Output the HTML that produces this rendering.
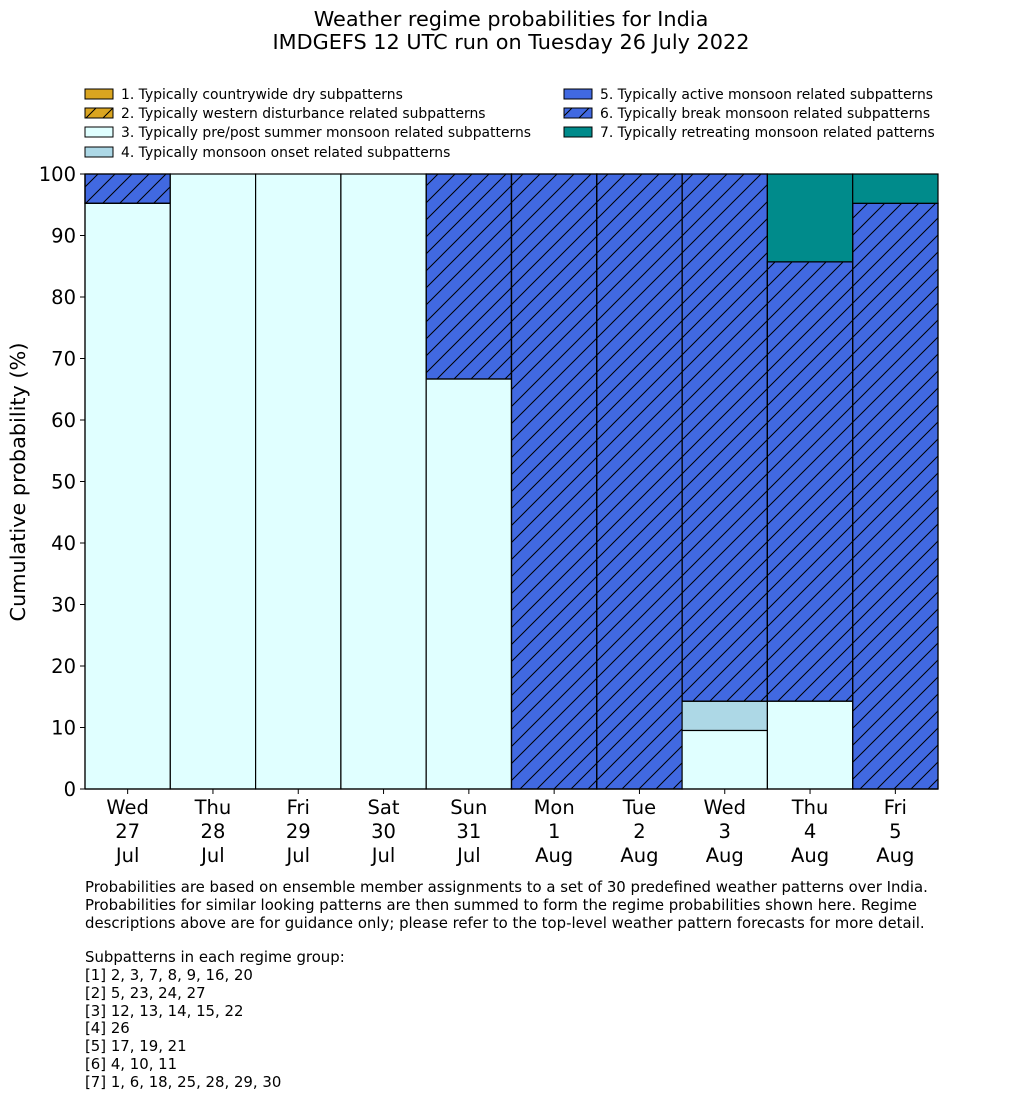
<!DOCTYPE html>
<html><head><meta charset="utf-8"><style>
body{margin:0;background:#fff;width:1033px;height:1114px;overflow:hidden;font-family:"Liberation Sans","DejaVu Sans",sans-serif}
svg text{font-family:"DejaVu Sans","Liberation Sans",sans-serif}
</style></head><body>
<svg id="chart" width="1033" height="1114" xmlns="http://www.w3.org/2000/svg">
<defs>
<pattern id="hatch" patternUnits="userSpaceOnUse" width="17" height="17">
<path d="M-1,18 L18,-1 M-5,5 L5,-5 M12,22 L22,12" stroke="#000" stroke-width="1"/>
</pattern>
</defs>
<text x="511" y="26" font-size="20.8" text-anchor="middle">Weather regime probabilities for India</text>
<text x="511" y="49" font-size="20.8" text-anchor="middle">IMDGEFS 12 UTC run on Tuesday 26 July 2022</text>
<g id="legend"></g>
<g id="bars"></g>
<g id="axes"></g>
<text transform="translate(25,482) rotate(-90)" font-size="20.8" text-anchor="middle">Cumulative probability (%)</text>
<g font-size="14.9">
<text x="85" y="892">Probabilities are based on ensemble member assignments to a set of 30 predefined weather patterns over India.</text>
<text x="85" y="910">Probabilities for similar looking patterns are then summed to form the regime probabilities shown here. Regime</text>
<text x="85" y="928">descriptions above are for guidance only; please refer to the top-level weather pattern forecasts for more detail.</text>
<text x="85" y="962">Subpatterns in each regime group:</text>
<text x="85" y="980">[1] 2, 3, 7, 8, 9, 16, 20</text>
<text x="85" y="998">[2] 5, 23, 24, 27</text>
<text x="85" y="1016">[3] 12, 13, 14, 15, 22</text>
<text x="85" y="1033">[4] 26</text>
<text x="85" y="1051">[5] 17, 19, 21</text>
<text x="85" y="1069">[6] 4, 10, 11</text>
<text x="85" y="1087">[7] 1, 6, 18, 25, 28, 29, 30</text>
</g>
</svg>
<script>
const days=["Wed","Thu","Fri","Sat","Sun","Mon","Tue","Wed","Thu","Fri"];
const dates=["27","28","29","30","31","1","2","3","4","5"];
const months=["Jul","Jul","Jul","Jul","Jul","Aug","Aug","Aug","Aug","Aug"];
const regimeNames=["1. Typically countrywide dry subpatterns","2. Typically western disturbance related subpatterns","3. Typically pre/post summer monsoon related subpatterns","4. Typically monsoon onset related subpatterns","5. Typically active monsoon related subpatterns","6. Typically break monsoon related subpatterns","7. Typically retreating monsoon related patterns"];
const regimeColors=["#daa520","#daa520","#e0ffff","#add8e6","#4169e1","#4169e1","#008b8b"];
const regimeHatch=[false,true,false,false,false,true,false];
const r1=[0,0,0,0,0,0,0,0,0,0];
const r2=[0,0,0,0,0,0,0,0,0,0];
const r3=[95.24,100,100,100,66.67,0,0,9.52,14.29,0];
const r4=[0,0,0,0,0,0,0,4.76,0,0];
const r5=[0,0,0,0,0,0,0,0,0,0];
const r6=[4.76,0,0,0,33.33,100,100,85.72,71.43,95.24];
const r7=[0,0,0,0,0,0,0,0,14.28,4.76];
const yTicks=[0,10,20,30,40,50,60,70,80,90,100];
const series=[r1,r2,r3,r4,r5,r6,r7];
const NS="http://www.w3.org/2000/svg";
const X0=85,X1=938,Y0=789,Y1=174;
const bw=(X1-X0)/days.length;
const xs=i=>X0+i*bw;
const ys=v=>Y0-(v/100)*(Y0-Y1);
function mk(t,a,p){const e=document.createElementNS(NS,t);for(const k in a)e.setAttribute(k,a[k]);p.appendChild(e);return e;}
const bars=document.getElementById('bars');
for(let i=0;i<days.length;i++){let c=0;
 for(let s=0;s<series.length;s++){const v=series[s][i];if(v<=0)continue;
  const r=mk('rect',{x:xs(i),y:ys(c+v),width:bw,height:ys(c)-ys(c+v),fill:regimeColors[s],stroke:'#000','stroke-width':1.2},bars);
  
  
  if(regimeHatch[s]){const h=mk('rect',{x:xs(i),y:ys(c+v),width:bw,height:ys(c)-ys(c+v),fill:'url(#hatch)',stroke:'#000','stroke-width':1.2},bars);
   
   }
  c+=v;}}
const ax=document.getElementById('axes');
mk('line',{x1:X0,y1:Y1,x2:X0,y2:Y0,stroke:'#000','stroke-width':1.2},ax);
mk('line',{x1:X0,y1:Y0,x2:X1,y2:Y0,stroke:'#000','stroke-width':1.2},ax);
yTicks.forEach(v=>{mk('line',{x1:X0-5,y1:ys(v),x2:X0,y2:ys(v),stroke:'#000'},ax);
 const t=mk('text',{x:X0-9,y:ys(v)+7,'font-size':19.5,'text-anchor':'end'},ax);t.textContent=v;
 
 });
days.forEach((d,i)=>{const cx=xs(i)+bw/2;mk('line',{x1:cx,y1:Y0,x2:cx,y2:Y0+5,stroke:'#000'},ax);
 [d,dates[i],months[i]].forEach((s,j)=>{const t=mk('text',{x:cx,y:814+j*24,'font-size':19.5,'text-anchor':'middle'},ax);t.textContent=s;
 
 });});
const lg=document.getElementById('legend');
const pos=[[85,95],[85,114],[85,133],[85,153],[564,95],[564,114],[564,133]];
regimeNames.forEach((n,s)=>{const [x,y]=pos[s];
 const g=mk('g',{},lg);
 
 
 mk('rect',{x:x,y:y-6,width:28,height:10,fill:regimeColors[s],stroke:'#000'},g);
 if(regimeHatch[s])mk('rect',{x:x,y:y-6,width:28,height:10,fill:'url(#hatch)',stroke:'#000'},g);
 const t=mk('text',{x:x+36,y:y+4,'font-size':13.9},g);t.textContent=n;});
</script>
</body></html>
